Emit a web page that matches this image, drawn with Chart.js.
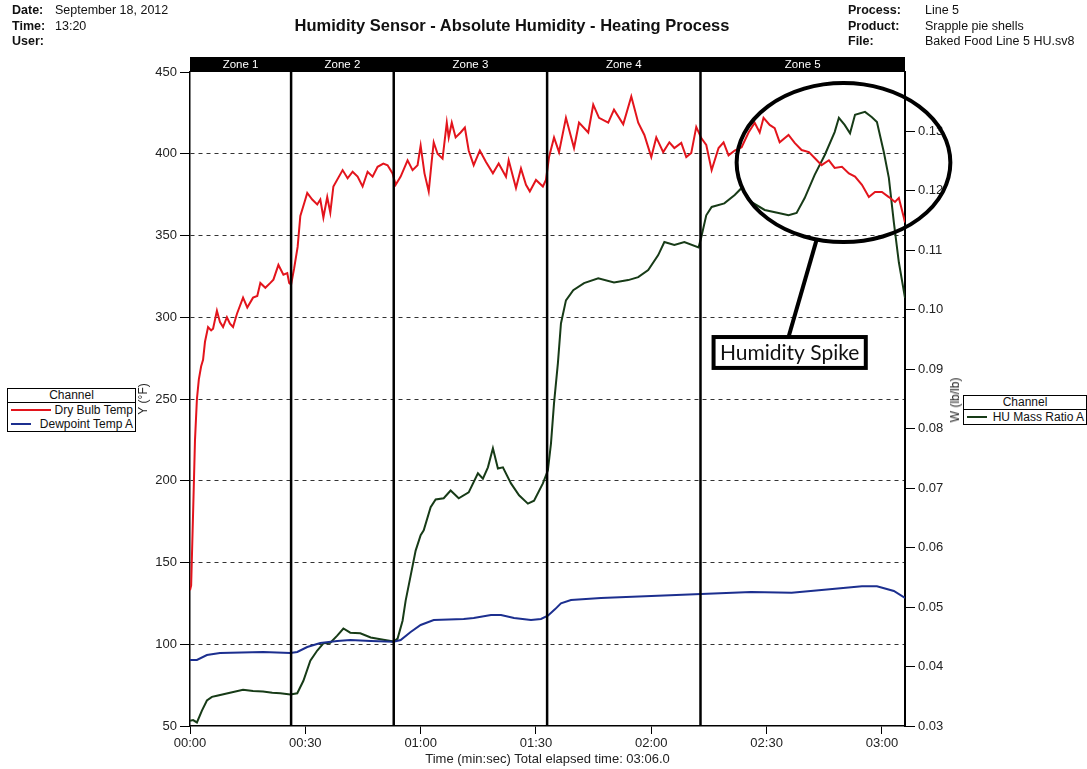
<!DOCTYPE html>
<html>
<head>
<meta charset="utf-8">
<script src="https://cdn.jsdelivr.net/npm/chart.js@4.4.1/dist/chart.umd.min.js"></script>
<style>
  body { margin: 0; background: #fff; font-family: "Liberation Sans", Arial, sans-serif; color: #111; }
  #wrap { position: relative; width: 1087px; height: 769px; overflow: hidden; }
  canvas { position: absolute; left: 0; top: 0; }
  .info { position: absolute; font-size: 12.5px; line-height: 15.5px; white-space: nowrap; }
  .info b { display: inline-block; }
  #title { position: absolute; left: 512px; top: 16px; transform: translateX(-50%); font-weight: bold; font-size: 16.5px; line-height: 18px; white-space: nowrap; }
  .legend { position: absolute; border: 1px solid #000; background: #fff; font-size: 12px; }
  .legend .head { text-align: center; line-height: 13px; border-bottom: 1px solid #000; }
  .legend .row { position: relative; height: 14px; line-height: 14px; text-align: right; padding-right: 2px; }
  .legend .row i { position: absolute; left: 3px; top: 6px; height: 2px; }
  #wTitle { position: absolute; left: 955px; top: 400px; transform: translate(-50%, -50%) rotate(-90deg); font-size: 12px; white-space: nowrap; color: #222; }
</style>
</head>
<body>
<div id="wrap">
  <canvas id="humidityChart" width="1087" height="769"></canvas>

  <div class="info" style="left:12px; top:3px;">
    <div><b style="width:43px">Date:</b>September 18, 2012</div>
    <div><b style="width:43px">Time:</b>13:20</div>
    <div><b style="width:43px">User:</b></div>
  </div>
  <div id="title">Humidity Sensor - Absolute Humidity - Heating Process</div>
  <div class="info" style="left:848px; top:3px;">
    <div><b style="width:77px">Process:</b>Line 5</div>
    <div><b style="width:77px">Product:</b>Srapple pie shells</div>
    <div><b style="width:77px">File:</b>Baked Food Line 5 HU.sv8</div>
  </div>

  <div class="legend" style="left:7px; top:388px; width:127px;">
    <div class="head">Channel</div>
    <div class="row"><i style="width:40px; background:#e3141c;"></i>Dry Bulb Temp</div>
    <div class="row"><i style="width:20px; background:#1c2f8f;"></i>Dewpoint Temp A</div>
  </div>
  <div id="wTitle">W (lb/lb)</div>
  <div class="legend" style="left:963px; top:395px; width:122px;">
    <div class="head">Channel</div>
    <div class="row"><i style="width:20px; background:#173b17;"></i>HU Mass Ratio A</div>
  </div>
</div>

<script>
// Zones along the line (seconds)
const zoneNames = ['Zone 1', 'Zone 2', 'Zone 3', 'Zone 4', 'Zone 5'];
const zoneEdges = [0, 26.3, 53.0, 92.9, 132.8, 186];

// Dry bulb temperature (°F) - left axis
const dryTime = [0, 0.3, 0.8, 1.3, 1.8, 2.3, 2.9, 3.4, 3.9, 4.7, 5.5, 6.0, 7.0, 7.8, 8.6, 9.6, 10.4, 11.2, 12.2, 13.8,
  14.9, 16.4, 17.5, 18.3, 19.6, 20.9, 21.7, 23.0, 24.3, 25.3, 25.8, 26.3, 27.1, 28.0, 28.7, 30.0, 30.5, 31.8, 33.1, 33.9,
  34.7, 35.7, 36.5, 37.3, 39.7, 41.0, 42.3, 43.6, 44.9, 46.2, 47.5, 48.8, 50.3, 51.4, 52.7, 53.5, 54.8, 56.6, 57.9, 59.2,
  60.0, 61.0, 62.1, 62.9, 63.4, 64.4, 65.7, 66.8, 67.3, 68.1, 69.1, 70.4, 71.5, 72.5, 73.8, 75.4, 77.0, 78.8, 80.3, 82.2,
  82.9, 84.8, 86.1, 87.4, 88.4, 90.0, 91.8, 92.6, 93.4, 94.7, 96.0, 97.8, 99.9, 101.2, 103.6, 104.9, 106.4, 108.8, 110.3, 112.7,
  114.8, 116.6, 118.2, 120.0, 121.3, 123.1, 124.7, 126.0, 127.8, 129.1, 130.4, 131.7, 133.0, 134.3, 135.7, 137.5, 138.8, 140.1, 141.7, 143.5,
  145.3, 146.9, 148.2, 149.2, 150.8, 152.1, 153.4, 155.7, 157.3, 159.1, 161.0, 162.5, 164.3, 166.2, 167.7, 169.6, 171.4, 173.0, 174.8, 176.6,
  178.2, 180.0, 181.8, 183.4, 184.4, 185.7, 186.0];
const dryBulb = [133, 136, 180, 225, 250, 262, 270, 274, 285, 294, 292, 293, 304, 297, 294, 300, 296, 294, 302, 312,
  306, 312, 313, 321, 318, 321, 323, 332, 326, 327, 321, 320, 330, 343, 362, 372, 376, 372, 369, 372,
  361, 373.5, 364, 380, 390, 385, 389, 386, 380, 389, 386, 392, 394, 393, 388, 381, 386, 396, 390, 393,
  405, 388, 377, 396, 407, 400, 397, 419, 410, 419, 410, 413, 416, 402, 393, 402, 395, 388, 394, 386,
  396, 379, 391, 381, 377, 384, 380, 384, 398, 410, 401, 422, 403.5, 419, 413, 430, 422, 419, 427, 418,
  435, 419, 411.5, 398, 410, 401, 407, 403.5, 406.6, 398, 400.5, 416.4, 409.6, 405.4, 390, 403.5, 407, 399, 402, 404,
  413, 419, 413, 422, 417.6, 415.7, 407, 411.5, 406.6, 402.3, 401, 397.4, 393, 396, 391.3, 392, 388, 386, 381, 373.5,
  376.6, 376.6, 373.5, 370.5, 373, 361, 358];

// Dewpoint temperature (°F) - left axis
const dewTime = [0, 1.8, 4.4, 7.8, 19.0, 26.1, 27.9, 30.5, 33.9, 38.3, 41.7, 47.0, 53.0, 54.8, 57.4, 60.0, 63.4, 71.2,
  73.8, 78.3, 80.9, 84.3, 88.7, 91.3, 93.1, 95.0, 96.5, 99.1, 106.9, 120.0, 133.0, 146.0, 156.5, 164.3, 174.8, 178.7, 183.1, 186];
const dewpoint = [90.4, 90.4, 93.4, 94.7, 95.3, 94.7, 95.3, 98.3, 100.8, 102.0, 102.6, 102.0, 101.5, 102.6, 107.5, 111.8, 114.8, 115.5,
  116.1, 117.9, 117.9, 116.1, 114.8, 115.5, 117.5, 121.5, 125.0, 127.1, 128.3, 129.5, 130.7, 131.9, 131.5, 133.2, 135.5, 135.5, 132.6, 128.3];

// HU mass ratio (lb/lb) - right axis
const huTime = [0, 0.8, 1.8, 3.1, 4.4, 5.7, 7.0, 10.4, 13.8, 16.4, 19.0, 21.4, 23.5, 26.1, 27.9, 29.5, 31.3, 33.1, 34.7, 36.5,
  38.3, 39.9, 41.7, 44.3, 47.0, 50.3, 53.0, 54.0, 55.3, 56.1, 57.4, 58.7, 60.0, 60.8, 62.6, 63.9, 66.0, 67.8, 69.9, 72.5,
  74.9, 76.2, 77.5, 78.8, 80.1, 81.4, 83.5, 85.6, 87.9, 89.5, 91.8, 93.1, 93.9, 94.7, 95.7, 96.5, 97.8, 99.7, 102.5, 106.2,
  110.3, 114.0, 116.6, 119.2, 121.8, 123.4, 126.0, 128.6, 132.3, 133.0, 134.3, 135.7, 139.0, 141.7, 143.5, 146.1, 149.5, 153.1, 155.7, 157.8,
  159.9, 162.5, 165.1, 167.7, 168.8, 170.3, 171.7, 173.0, 175.6, 177.4, 178.7, 180.5, 181.8, 183.1, 184.4, 186.0];
const huRatio = [0.0309, 0.0310, 0.0306, 0.0326, 0.0343, 0.0349, 0.0351, 0.0356, 0.0361, 0.0359, 0.0358, 0.0356, 0.0355, 0.0353, 0.0355, 0.0376, 0.0410, 0.0427, 0.0439, 0.0440,
  0.0452, 0.0464, 0.0457, 0.0456, 0.0449, 0.0445, 0.0442, 0.0447, 0.0477, 0.0511, 0.0553, 0.0595, 0.0621, 0.0629, 0.0668, 0.0681, 0.0683, 0.0696, 0.0683, 0.0693,
  0.0725, 0.0716, 0.0735, 0.0767, 0.0733, 0.0735, 0.0708, 0.0688, 0.0674, 0.0679, 0.0708, 0.0730, 0.0775, 0.0843, 0.0910, 0.0977, 0.1016, 0.1033, 0.1045, 0.1053,
  0.1046, 0.1050, 0.1055, 0.1067, 0.1092, 0.1114, 0.1109, 0.1114, 0.1105, 0.1122, 0.1159, 0.1173, 0.1179, 0.1193, 0.1205, 0.1181, 0.1168, 0.1163, 0.1159, 0.1163,
  0.1188, 0.1227, 0.1260, 0.1299, 0.1323, 0.1311, 0.1297, 0.1328, 0.1333, 0.1324, 0.1316, 0.1265, 0.1222, 0.1147, 0.1080, 0.1020];

// Callout, in data units (time s, °F)
const spikeNote = { text: 'Humidity Spike', cx: 170.0, cy: 394.6, rx: 27.8, ry: 48.6,
  from: [163.0, 347.3], to: [155.7, 287.9], box: [136.2, 287.9, 175.8, 269.0] };

function pts(xs, ys) {
  return xs.map((x, i) => ({ x: x, y: ys[i] }));
}

function mmss(v) {
  const m = Math.floor(v / 60);
  const s = Math.round(v % 60);
  return String(m).padStart(2, '0') + ':' + String(s).padStart(2, '0');
}

// zone header bar + zone divider lines
const zonePlugin = {
  id: 'zones',
  afterDatasetsDraw(chart) {
    const ctx = chart.ctx;
    const a = chart.chartArea;
    const xs = chart.scales.x;
    ctx.save();
    ctx.fillStyle = '#000';
    ctx.fillRect(a.left, a.top - 15, a.right - a.left, 15);
    ctx.fillStyle = '#fff';
    ctx.font = '11.5px "Liberation Sans", Arial, sans-serif';
    ctx.textAlign = 'center';
    ctx.textBaseline = 'middle';
    for (let i = 0; i < zoneNames.length; i++) {
      const x1 = xs.getPixelForValue(zoneEdges[i]);
      const x2 = xs.getPixelForValue(zoneEdges[i + 1]);
      ctx.fillText(zoneNames[i], (x1 + x2) / 2, a.top - 7);
    }
    ctx.strokeStyle = '#000';
    ctx.lineWidth = 2.5;
    for (let i = 1; i < zoneEdges.length - 1; i++) {
      const x = xs.getPixelForValue(zoneEdges[i]);
      ctx.beginPath();
      ctx.moveTo(x, a.top);
      ctx.lineTo(x, a.bottom);
      ctx.stroke();
    }
    ctx.restore();
  }
};

// ellipse + pointer + label box
const notePlugin = {
  id: 'note',
  afterDraw(chart) {
    const ctx = chart.ctx;
    const xs = chart.scales.x, ys = chart.scales.y;
    const n = spikeNote;
    const cx = xs.getPixelForValue(n.cx), cy = ys.getPixelForValue(n.cy);
    const rx = Math.abs(xs.getPixelForValue(n.cx + n.rx) - cx);
    const ry = Math.abs(ys.getPixelForValue(n.cy + n.ry) - cy);
    ctx.save();
    ctx.strokeStyle = '#000';
    ctx.lineWidth = 4;
    ctx.beginPath();
    ctx.ellipse(cx, cy, rx, ry, 0, 0, Math.PI * 2);
    ctx.stroke();

    ctx.beginPath();
    ctx.moveTo(xs.getPixelForValue(n.from[0]), ys.getPixelForValue(n.from[1]));
    ctx.lineTo(xs.getPixelForValue(n.to[0]), ys.getPixelForValue(n.to[1]));
    ctx.stroke();

    const bx1 = xs.getPixelForValue(n.box[0]), by1 = ys.getPixelForValue(n.box[1]);
    const bx2 = xs.getPixelForValue(n.box[2]), by2 = ys.getPixelForValue(n.box[3]);
    ctx.fillStyle = '#fff';
    ctx.fillRect(bx1, by1, bx2 - bx1, by2 - by1);
    ctx.strokeRect(bx1, by1, bx2 - bx1, by2 - by1);
    ctx.fillStyle = '#111';
    ctx.font = '21px Lato, "Open Sans", sans-serif';
    ctx.textAlign = 'center';
    ctx.textBaseline = 'middle';
    ctx.fillText(n.text, (bx1 + bx2) / 2, (by1 + by2) / 2 + 1);
    ctx.restore();
  }
};

Chart.defaults.font.family = '"Liberation Sans", Arial, sans-serif';
Chart.defaults.color = '#222';

const hidden = 'rgba(0,0,0,0)';

new Chart(document.getElementById('humidityChart'), {
  type: 'line',
  data: {
    datasets: [
      {
        label: 'Dry Bulb Temp',
        data: pts(dryTime, dryBulb),
        borderColor: '#e3141c',
        borderWidth: 2,
        yAxisID: 'y'
      },
      {
        label: 'Dewpoint Temp A',
        data: pts(dewTime, dewpoint),
        borderColor: '#1c2f8f',
        borderWidth: 2,
        yAxisID: 'y'
      },
      {
        label: 'HU Mass Ratio A',
        data: pts(huTime, huRatio),
        borderColor: '#173b17',
        borderWidth: 2,
        yAxisID: 'y1'
      }
    ]
  },
  options: {
    responsive: false,
    animation: false,
    devicePixelRatio: 1,
    elements: { point: { radius: 0 }, line: { tension: 0 } },
    layout: { padding: { top: 72, left: 136, right: 124, bottom: 0 } },
    plugins: { legend: { display: false }, tooltip: { enabled: false } },
    scales: {
      x: {
        type: 'linear',
        min: 0,
        max: 186,
        ticks: { stepSize: 30, includeBounds: false, autoSkip: false, maxRotation: 0, padding: 2,
          font: { size: 13 }, callback: (v) => mmss(v) },
        grid: { drawOnChartArea: false, tickLength: 8, tickColor: '#000', color: '#000' },
        border: { color: '#000', width: 1.5 },
        title: { display: true, text: 'Time (min:sec) Total elapsed time: 03:06.0', font: { size: 13 },
          padding: { top: 0, bottom: 2 } },
        afterFit: (s) => { s.height = 43; }
      },
      y: {
        position: 'left',
        min: 50,
        max: 450,
        ticks: { stepSize: 50, padding: 3, font: { size: 13 } },
        grid: {
          color: (c) => (c.tick && (c.tick.value === 50 || c.tick.value === 450)) ? hidden : '#333',
          lineWidth: 1,
          tickLength: 10,
          tickColor: '#000'
        },
        border: { color: '#000', width: 1.5, dash: [4, 4] },
        title: { display: true, text: 'Y (°F)', font: { size: 12 }, padding: 0 },
        afterFit: (s) => { s.width = 54; }
      },
      y1: {
        position: 'right',
        min: 0.03,
        max: 0.14,
        ticks: { stepSize: 0.01, padding: 3, font: { size: 13 },
          callback: (v) => v > 0.135 ? '' : v.toFixed(2) },
        grid: { drawOnChartArea: false, tickLength: 10,
          tickColor: (c) => (c.tick && c.tick.value > 0.135) ? hidden : '#000' },
        border: { color: '#000', width: 2 },
        afterFit: (s) => { s.width = 58; }
      }
    }
  },
  plugins: [zonePlugin, notePlugin]
});
</script>
</body>
</html>
